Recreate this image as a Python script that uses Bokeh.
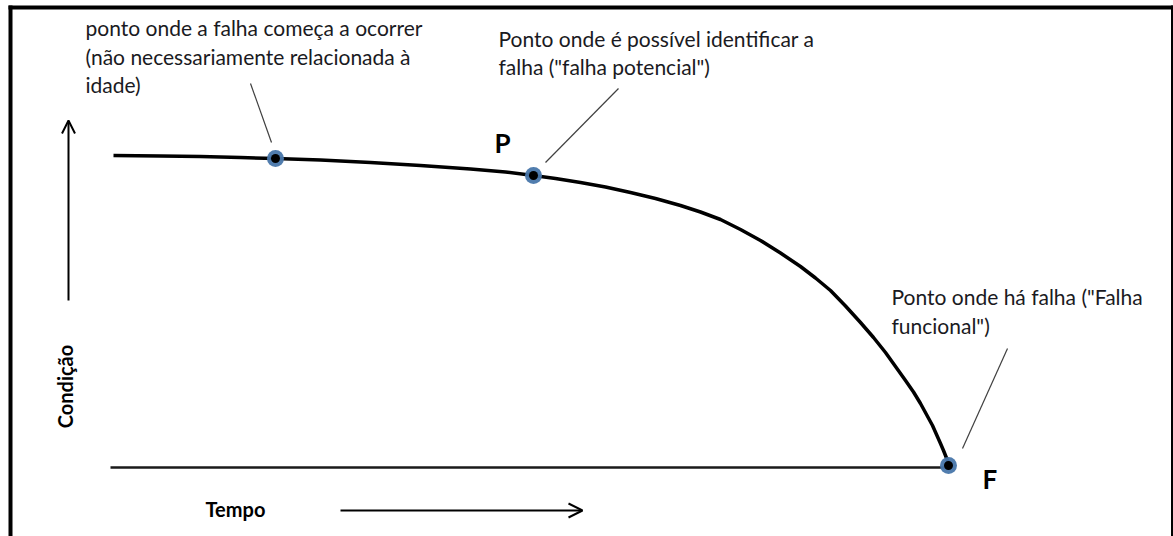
from bokeh.plotting import figure
from bokeh.models import Range1d, Arrow, OpenHead
from bokeh.core.properties import value
from bokeh.embed import file_html
from bokeh.resources import INLINE
import math

# ---- data (screen-like coordinates: x = tempo, y grows downward) ----
curve_tempo = [113, 160, 200, 240, 275, 320, 370, 420, 470, 505, 533, 555, 580, 605, 630,
               655, 680, 700, 720, 740, 760, 780, 800, 815, 830, 845, 860, 873, 885,
               895, 905, 913, 920, 926, 932, 936, 940, 943, 945, 947, 948]
curve_condicao = [155, 155.5, 156, 157, 158, 159.5, 162, 165, 168.5, 171.5, 175, 178, 182,
                  186.5, 192, 198, 205, 211.5, 219, 229, 240, 252.5, 266, 277.5, 290,
                  305.5, 322, 337, 352, 366, 380, 391.5, 403, 414, 425, 434, 443, 450,
                  455, 460, 464]

point_tempo = [275, 533, 948]
point_condicao = [158, 175, 465]

base_tempo = [110, 948]
base_condicao = [467, 467]

leader_x0 = [250, 618, 1007]
leader_y0 = [83, 88, 348]
leader_x1 = [271, 545, 962]
leader_y1 = [142, 162, 448]

note_lines = [
    "ponto onde a falha começa a ocorrer",
    "(não necessariamente relacionada à",
    "idade)",
    "Ponto onde é possível identificar a",
    "falha (\"falha potencial\")",
    "Ponto onde há falha (\"Falha",
    "funcional\")",
]
note_x = [85, 85, 85, 498, 498, 891, 891]
note_y = [27, 56, 84, 38, 66, 296, 325]

letters = ["P", "F"]
letter_x = [494, 982]
letter_y = [142, 478]

axis_x_label = "Tempo"
axis_y_label = "Condição"

FONT = "Lato"

p = figure(width=1173, height=536, output_backend="svg", toolbar_location=None,
           x_range=Range1d(0, 1173), y_range=Range1d(536, 0),
           min_border=0, min_border_left=0, min_border_right=0,
           min_border_top=0, min_border_bottom=0)
p.axis.visible = False
p.grid.visible = False
p.outline_line_color = None
p.background_fill_color = "white"
p.border_fill_color = "white"

# frame border (left, top, right)
p.line([10, 10], [5, 536], line_color="black", line_width=4)
p.line([8, 1173], [7, 7], line_color="black", line_width=4)
p.line([1171.5, 1171.5], [5, 536], line_color="black", line_width=2)

# baseline
p.line(base_tempo, base_condicao, line_color="#1a1a1a", line_width=2.5)

# curve
p.line(curve_tempo, curve_condicao, line_color="black", line_width=3.5, line_join="round")

# leader lines
p.segment(leader_x0, leader_y0, leader_x1, leader_y1, line_color="#404040", line_width=1.2)

# points
p.scatter(point_tempo, point_condicao, size=17, fill_color="#4876aa", line_color=None, fill_alpha=0.95)
p.scatter(point_tempo, point_condicao, size=9, fill_color="black", line_color=None)

# axis arrows
p.add_layout(Arrow(x_start=68, y_start=300, x_end=68, y_end=120, line_width=2, line_color="black",
                   end=OpenHead(size=13, line_width=2, line_color="black")))
p.add_layout(Arrow(x_start=340, y_start=510, x_end=582, y_end=510, line_width=2, line_color="black",
                   end=OpenHead(size=14, line_width=2, line_color="black")))

# annotation texts
p.text(x=note_x, y=note_y, text=note_lines, text_font=value(FONT), text_font_size="21px",
       text_color="#1a1a22", text_align="left", text_baseline="alphabetic")

p.text(x=letter_x, y=letter_y, text=letters, text_font=value(FONT), text_font_size="26px",
       text_font_style="bold", text_color="black", text_align="left", text_baseline="alphabetic")

p.text(x=[205], y=[508], text=[axis_x_label], text_font=value(FONT), text_font_size="20px",
       text_font_style="bold", text_color="black", text_align="left", text_baseline="alphabetic")

p.text(x=[64], y=[386], text=[axis_y_label], text_font=value(FONT), text_font_size="20px",
       text_font_style="bold", text_color="black", text_align="center", text_baseline="middle",
       angle=math.pi / 2)

open("out.html", "w").write(file_html(p, INLINE))
